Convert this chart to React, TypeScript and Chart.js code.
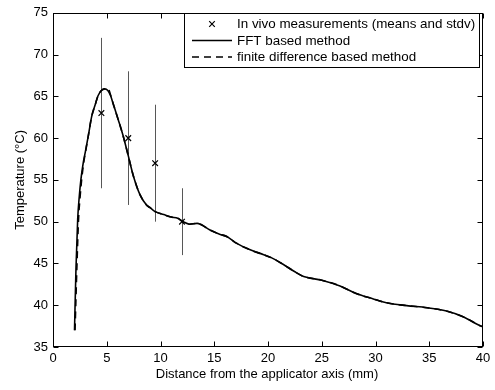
import React, { useEffect, useRef } from "react";
import { Chart, registerables } from "chart.js";

Chart.register(...registerables);

// FFT based method (solid)
const fftX = [2.0, 2.14, 2.3, 2.45, 2.6, 2.82, 3.0, 3.3, 3.6, 3.9, 4.2, 4.5, 4.8, 5.1, 5.35, 5.65, 6.07, 6.54, 7.0, 7.47, 8.1, 8.7, 9.0, 9.5, 10.3, 11.0, 11.6, 12.1, 12.7, 13.4, 14.6, 15.5, 16.2, 17.1, 18.4, 19.6, 20.3, 21.4, 22.5, 23.4, 25.0, 26.7, 28.2, 29.8, 31.0, 32.9, 34.8, 36.6, 38.2, 39.5, 40.0];
const fftY = [37.0, 44.5, 50.4, 53.1, 55.1, 57.1, 58.3, 60.4, 62.6, 63.9, 65.1, 65.7, 65.9, 65.7, 65.1, 63.9, 62.2, 60.2, 57.9, 55.5, 53.2, 52.0, 51.7, 51.2, 50.85, 50.55, 50.4, 50.0, 49.7, 49.8, 49.0, 48.5, 48.2, 47.4, 46.6, 46.05, 45.7, 44.9, 44.0, 43.4, 43.0, 42.3, 41.4, 40.75, 40.3, 39.95, 39.7, 39.3, 38.6, 37.7, 37.4];
// finite difference based method (dashed)
const fdX = [2.05, 2.22, 2.38, 2.53, 2.67, 2.86, 3.02, 3.3, 3.6, 3.9, 4.2, 4.5, 4.8, 5.05, 5.2, 5.35, 5.65, 6.07, 6.54, 7.0, 7.47, 8.1, 8.7, 9.0, 9.5, 10.3, 11.0, 11.6, 12.1, 12.7, 13.4, 14.6, 15.5, 16.2, 17.1, 18.4, 19.6, 20.3, 21.4, 22.5, 23.4, 25.0, 26.7, 28.2, 29.8, 31.0, 32.9, 34.8, 36.6, 38.2, 39.5, 40.0];
const fdY = [37.0, 44.5, 50.4, 53.1, 55.1, 57.1, 58.3, 60.4, 62.6, 63.9, 65.1, 65.7, 65.9, 66.0, 65.8, 65.2, 63.9, 62.2, 60.2, 57.9, 55.5, 53.2, 52.0, 51.7, 51.2, 50.85, 50.55, 50.4, 50.0, 49.7, 49.8, 49.0, 48.5, 48.2, 47.4, 46.6, 46.05, 45.7, 44.9, 44.0, 43.4, 43.0, 42.3, 41.4, 40.75, 40.3, 39.95, 39.7, 39.3, 38.6, 37.7, 37.4];

// In vivo measurements
const measX = [4.5, 7, 9.5, 12];
const measMean = [63, 60, 57, 50];
const measLow = [54, 52, 50, 46];
const measHigh = [72, 68, 64, 54];

const xTicks = [0, 5, 10, 15, 20, 25, 30, 35, 40];
const yTicks = [35, 40, 45, 50, 55, 60, 65, 70, 75];

const legendLabels = [
  "In vivo measurements (means and stdv)",
  "FFT based method",
  "finite difference based method",
];
const xTitle = "Distance from the applicator axis (mm)";
const yTitle = "Temperature (\u00B0C)";

const FONT = "Liberation Sans, Arial, Helvetica, sans-serif";

const framePlugin = {
  id: "matlabFrame",
  beforeDatasetsDraw(chart: any) {
    const { ctx, scales } = chart;
    const xs = scales.x;
    const ys = scales.y;
    ctx.save();
    ctx.strokeStyle = "rgba(0,0,0,0.66)";
    ctx.lineWidth = 1;
    for (let i = 0; i < measX.length; i++) {
      const px = Math.round(xs.getPixelForValue(measX[i])) + 0.5;
      ctx.beginPath();
      ctx.moveTo(px, ys.getPixelForValue(measLow[i]));
      ctx.lineTo(px, ys.getPixelForValue(measHigh[i]));
      ctx.stroke();
    }
    ctx.restore();
  },
  afterDraw(chart: any) {
    const { ctx, chartArea, scales } = chart;
    const { left, right, top, bottom } = chartArea;
    const xs = scales.x;
    const ys = scales.y;
    ctx.save();
    ctx.strokeStyle = "#000";
    ctx.lineWidth = 1;
    const L = Math.round(left) + 0.5;
    const R = Math.round(right) - 0.5;
    const T = Math.round(top) + 0.5;
    const B = Math.round(bottom) - 0.5;
    ctx.strokeRect(L, T, R - L, B - T);
    const tl = 5;
    ctx.beginPath();
    xTicks.forEach((v) => {
      const px = Math.round(xs.getPixelForValue(v)) + 0.5;
      ctx.moveTo(px, B);
      ctx.lineTo(px, B - tl);
      ctx.moveTo(px, T);
      ctx.lineTo(px, T + tl);
    });
    yTicks.forEach((v) => {
      const py = Math.round(ys.getPixelForValue(v)) + 0.5;
      ctx.moveTo(L, py);
      ctx.lineTo(L + tl, py);
      ctx.moveTo(R, py);
      ctx.lineTo(R - tl, py);
    });
    ctx.stroke();

    // axis titles
    ctx.fillStyle = "#000";
    ctx.font = `13px ${FONT}`;
    ctx.textAlign = "center";
    ctx.textBaseline = "alphabetic";
    ctx.fillText(xTitle, (left + right) / 2 - 1, 378);
    ctx.save();
    ctx.translate(24, (top + bottom) / 2);
    ctx.rotate(-Math.PI / 2);
    ctx.fillText(yTitle, 0, 0);
    ctx.restore();

    // legend
    const bx = 184.5, by = 13.5, bw = 295, bh = 54;
    ctx.fillStyle = "#fff";
    ctx.fillRect(bx, by, bw, bh);
    ctx.strokeStyle = "#000";
    ctx.strokeRect(bx, by, bw, bh);
    const rows = [24, 40.5, 57];
    ctx.lineWidth = 1.2;
    ctx.beginPath();
    const mx = 212, my = rows[0], r = 2.8;
    ctx.moveTo(mx - r, my - r);
    ctx.lineTo(mx + r, my + r);
    ctx.moveTo(mx - r, my + r);
    ctx.lineTo(mx + r, my - r);
    ctx.stroke();
    ctx.lineWidth = 1.5;
    ctx.beginPath();
    ctx.moveTo(192, rows[1]);
    ctx.lineTo(232, rows[1]);
    ctx.stroke();
    ctx.setLineDash([7, 5]);
    ctx.beginPath();
    ctx.moveTo(192, rows[2]);
    ctx.lineTo(232, rows[2]);
    ctx.stroke();
    ctx.setLineDash([]);
    ctx.fillStyle = "#000";
    ctx.font = `13.4px ${FONT}`;
    ctx.textAlign = "left";
    ctx.textBaseline = "middle";
    legendLabels.forEach((t, i) => ctx.fillText(t, 237, rows[i] + 0.5));
    ctx.restore();
  },
};

export default function App() {
  const ref = useRef<HTMLCanvasElement | null>(null);
  useEffect(() => {
    if (!ref.current) return;
    const chart = new Chart(ref.current, {
      type: "line",
      data: {
        datasets: [
          {
            label: legendLabels[0],
            data: measX.map((x, i) => ({ x, y: measMean[i] })),
            showLine: false,
            pointStyle: "crossRot",
            pointRadius: 4,
            pointBorderColor: "#000",
            pointBorderWidth: 1.2,
            borderColor: "#000",
            backgroundColor: "#000",
          },
          {
            label: legendLabels[1],
            data: fftX.map((x, i) => ({ x, y: fftY[i] })),
            borderColor: "#000",
            borderWidth: 1.6,
            pointRadius: 0,
            cubicInterpolationMode: "monotone",
            fill: false,
          },
          {
            label: legendLabels[2],
            data: fdX.map((x, i) => ({ x, y: fdY[i] })),
            borderColor: "#000",
            borderWidth: 1.6,
            borderDash: [7, 5],
            pointRadius: 0,
            cubicInterpolationMode: "monotone",
            fill: false,
          },
        ],
      },
      options: {
        responsive: false,
        animation: false,
        devicePixelRatio: 1,
        layout: { padding: { top: 8, right: 12, left: 0, bottom: 0 } },
        plugins: { legend: { display: false }, tooltip: { enabled: false } },
        scales: {
          x: {
            type: "linear",
            min: 0,
            max: 40,
            afterBuildTicks: (s: any) => {
              s.ticks = xTicks.map((v) => ({ value: v }));
            },
            afterFit: (s: any) => {
              s.height = 43;
            },
            ticks: { color: "#000", font: { size: 13, family: FONT }, padding: 4, maxRotation: 0, autoSkip: false },
            grid: { display: false, drawTicks: false },
            border: { display: false },
          },
          y: {
            type: "linear",
            min: 35,
            max: 75,
            afterBuildTicks: (s: any) => {
              s.ticks = yTicks.map((v) => ({ value: v }));
            },
            afterFit: (s: any) => {
              s.width = 53;
            },
            ticks: { color: "#000", font: { size: 13, family: FONT }, padding: 5, autoSkip: false },
            grid: { display: false, drawTicks: false },
            border: { display: false },
          },
        },
      },
      plugins: [framePlugin],
    } as any);
    return () => chart.destroy();
  }, []);
  return (
    <div style={{ position: "absolute", left: 0, top: 0, width: 495, height: 390, background: "#fff" }}>
      <canvas ref={ref} width={495} height={390} style={{ display: "block" }} />
    </div>
  );
}
